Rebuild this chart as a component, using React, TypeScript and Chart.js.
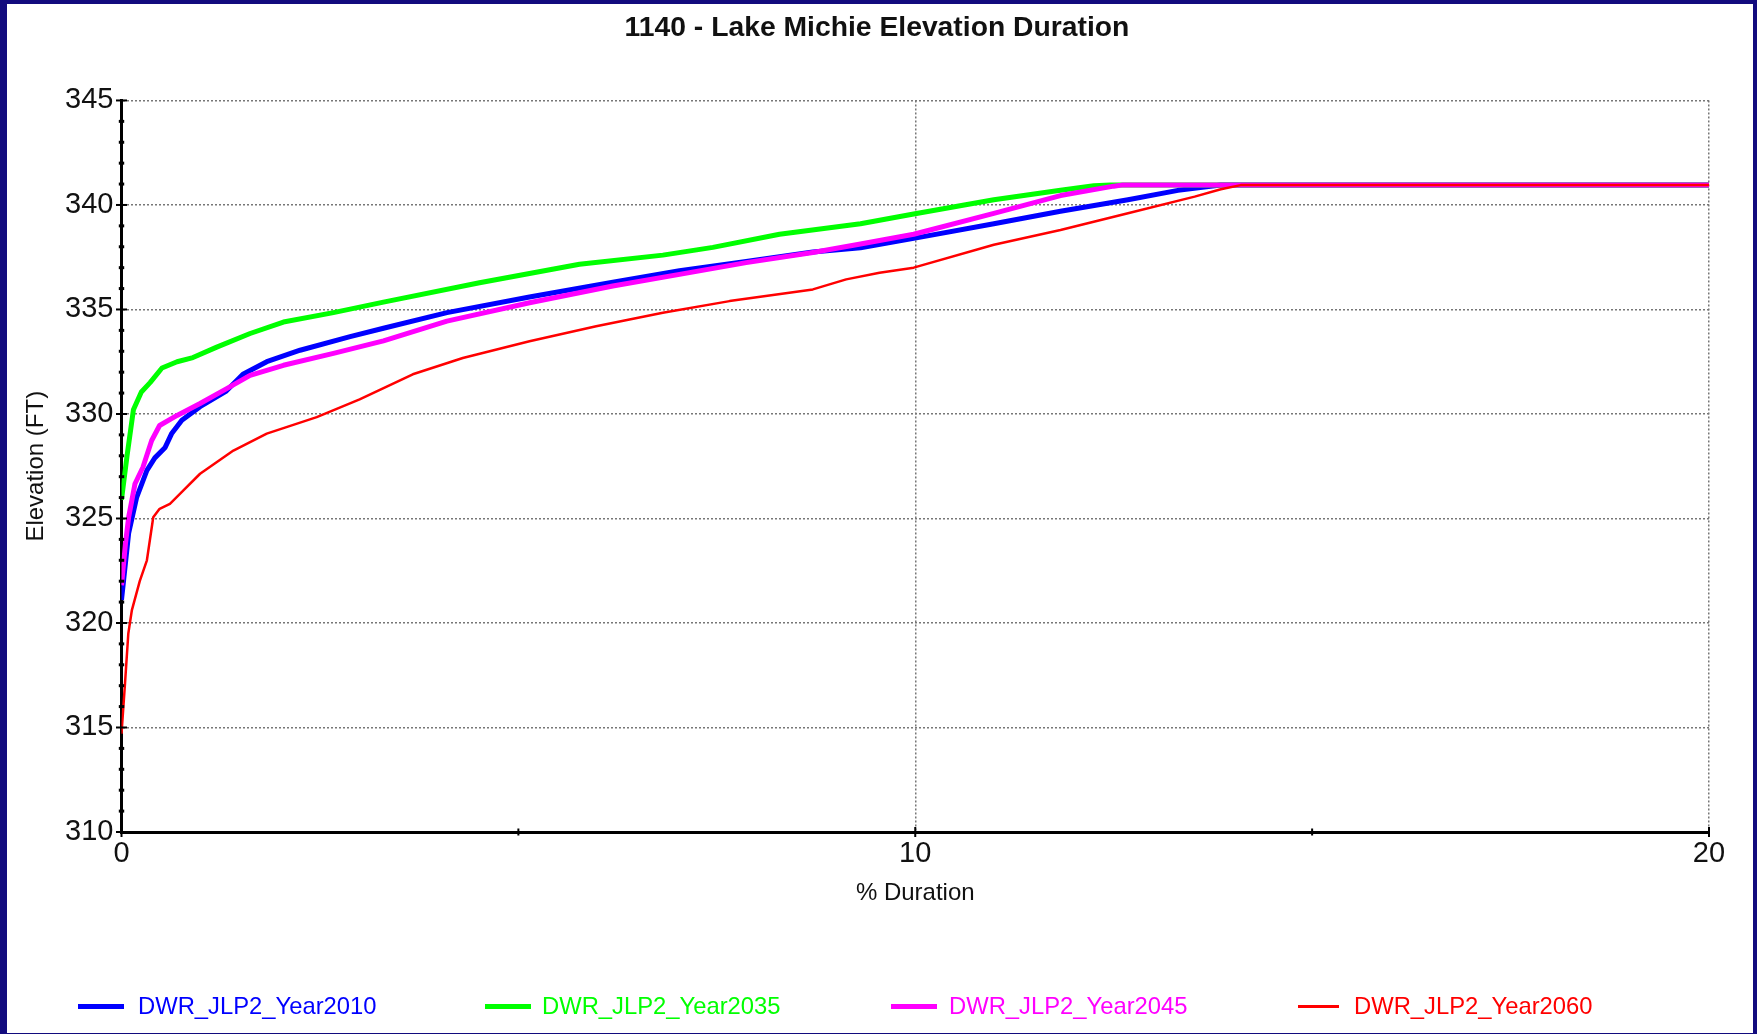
import React, { useEffect, useRef } from "react";
import { Chart, registerables } from "chart.js";

Chart.register(...registerables);

const FONT = "'Liberation Sans', Arial, Helvetica, sans-serif";

const TITLE = "1140 - Lake Michie Elevation Duration";
const X_TITLE = "% Duration";
const Y_TITLE = "Elevation (FT)";

const X_MIN = 0;
const X_MAX = 20;
const Y_MIN = 310;
const Y_MAX = 345;
const X_STEP = 10;
const Y_STEP = 5;
const X_MINOR = [5, 15];

const SERIES_NAMES = [
  "DWR_JLP2_Year2010",
  "DWR_JLP2_Year2035",
  "DWR_JLP2_Year2045",
  "DWR_JLP2_Year2060",
];
const SERIES_COLORS = ["#0000FF", "#00FF00", "#FF00FF", "#FF0000"];
const SERIES_WIDTHS = [5, 5, 5, 2.5];
// lower order draws on top
const SERIES_ORDER = [3, 2, 1, 0];

// % duration (x) and lake elevation in ft (y)
const dur2010 = [0, 0.09, 0.19, 0.32, 0.42, 0.55, 0.63, 0.76, 0.99, 1.32, 1.53, 1.83, 2.25, 2.88, 3.3, 4.1, 5.14, 6.19, 7.03, 7.87, 8.71, 9.31, 9.98, 10.99, 11.83, 12.68, 13.31, 13.72, 13.85, 20];
const elev2010 = [321.1, 324.3, 326.0, 327.3, 327.9, 328.4, 329.05, 329.7, 330.35, 331.1, 331.9, 332.5, 333.05, 333.7, 334.1, 334.85, 335.6, 336.3, 336.85, 337.3, 337.75, 337.95, 338.4, 339.1, 339.7, 340.25, 340.7, 340.9, 340.95, 340.95];

const dur2035 = [0, 0.07, 0.15, 0.25, 0.36, 0.51, 0.7, 0.9, 1.2, 1.62, 2.04, 2.67, 3.3, 4.51, 5.77, 6.82, 7.45, 8.29, 9.31, 9.98, 10.99, 11.83, 12.25, 12.46, 20];
const elev2035 = [325.9, 328.0, 330.2, 331.05, 331.5, 332.2, 332.5, 332.7, 333.2, 333.85, 334.4, 334.85, 335.35, 336.28, 337.16, 337.6, 337.97, 338.6, 339.1, 339.57, 340.25, 340.7, 340.92, 340.95, 340.95];

const dur2045 = [0, 0.05, 0.09, 0.17, 0.27, 0.38, 0.48, 0.7, 0.99, 1.32, 1.62, 2.04, 2.67, 3.3, 4.1, 5.14, 6.19, 7.03, 7.87, 8.71, 9.31, 9.98, 10.99, 11.83, 12.5, 12.6, 20];
const elev2045 = [321.8, 323.8, 325.06, 326.66, 327.45, 328.73, 329.45, 329.93, 330.5, 331.2, 331.85, 332.33, 332.9, 333.5, 334.44, 335.32, 336.12, 336.68, 337.24, 337.73, 338.13, 338.6, 339.6, 340.45, 340.9, 340.95, 340.95];

const dur2060 = [0, 0.044, 0.086, 0.13, 0.23, 0.32, 0.4, 0.48, 0.61, 0.78, 0.99, 1.41, 1.83, 2.46, 3.0, 3.67, 4.3, 5.14, 5.98, 6.82, 7.66, 8.71, 9.13, 9.55, 9.98, 10.99, 11.83, 12.68, 13.52, 13.85, 14.1, 20];
const elev2060 = [314.7, 317.1, 319.5, 320.6, 322.0, 323.0, 325.06, 325.46, 325.7, 326.34, 327.14, 328.25, 329.06, 329.85, 330.7, 331.9, 332.68, 333.48, 334.2, 334.84, 335.4, 335.96, 336.44, 336.76, 337.0, 338.1, 338.8, 339.6, 340.4, 340.75, 340.95, 340.95];

const SERIES_X = [dur2010, dur2035, dur2045, dur2060];
const SERIES_Y = [elev2010, elev2035, elev2045, elev2060];

// page geometry
const PAGE_W = 1757;
const PAGE_H = 1034;
const FRAME = { left: 7, top: 4, right: 4, bottom: 1 };
const CANVAS_W = PAGE_W - FRAME.left - FRAME.right;
const CANVAS_H = PAGE_H - FRAME.top - FRAME.bottom;

const LEGEND_POS = [
  { line: 78, text: 138 },
  { line: 485, text: 542 },
  { line: 891, text: 949 },
  { line: 1298, text: 1354 },
];
const LEGEND_Y = 1006;

// short tick marks that straddle both axis lines
const axisTicks = {
  id: "axisTicks",
  afterDraw(chart: any) {
    const { ctx, chartArea, scales } = chart;
    const xs = scales.x;
    const ys = scales.y;
    ctx.save();
    ctx.strokeStyle = "#000";
    for (let v = Y_MIN; v <= Y_MAX; v += 1) {
      const y = ys.getPixelForValue(v);
      const major = v % Y_STEP === 0;
      ctx.lineWidth = major ? 2 : 3;
      const w = major ? 5.5 : 2.7;
      ctx.beginPath();
      ctx.moveTo(chartArea.left - w, y);
      ctx.lineTo(chartArea.left + w, y);
      ctx.stroke();
    }
    const xVals = [...X_MINOR];
    for (let v = X_MIN; v <= X_MAX; v += X_STEP) xVals.push(v);
    for (const v of xVals) {
      const x = xs.getPixelForValue(v);
      const major = v % X_STEP === 0;
      ctx.lineWidth = 2;
      const h = major ? 5 : 3.5;
      ctx.beginPath();
      ctx.moveTo(x, chartArea.bottom - h);
      ctx.lineTo(x, chartArea.bottom + h);
      ctx.stroke();
    }
    ctx.restore();
  },
};

export default function App() {
  const canvasRef = useRef<HTMLCanvasElement | null>(null);

  useEffect(() => {
    const canvas = canvasRef.current;
    if (!canvas) return;

    const datasets = SERIES_NAMES.map((name, i) => ({
      label: name,
      data: SERIES_X[i].map((x, j) => ({ x, y: SERIES_Y[i][j] })),
      borderColor: SERIES_COLORS[i],
      backgroundColor: SERIES_COLORS[i],
      borderWidth: SERIES_WIDTHS[i],
      pointRadius: 0,
      tension: 0,
      fill: false,
      order: SERIES_ORDER[i],
      borderJoinStyle: "round" as const,
      borderCapStyle: "butt" as const,
    }));

    const chart = new Chart(canvas, {
      type: "line",
      data: { datasets },
      plugins: [axisTicks],
      options: {
        animation: false,
        responsive: false,
        devicePixelRatio: 1,
        layout: { padding: { left: 38, right: 44, top: 0, bottom: 125.6 } },
        plugins: {
          legend: { display: false },
          tooltip: { enabled: false },
          title: {
            display: true,
            text: TITLE,
            color: "#111",
            font: { family: FONT, size: 28.3, weight: "bold" },
            padding: { top: 7, bottom: 55.5 },
          },
        },
        scales: {
          x: {
            type: "linear",
            min: X_MIN,
            max: X_MAX,
            afterFit(scale: any) {
              scale.height = 75.4;
            },
            ticks: {
              stepSize: X_STEP,
              color: "#111",
              padding: 5,
              maxRotation: 0,
              font: { family: FONT, size: 29 },
            },
            grid: {
              drawTicks: false,
              lineWidth: 1.5,
              color: (c: any) => (c.tick && c.tick.value === X_MIN ? "rgba(0,0,0,0)" : "#777"),
            },
            border: { display: true, color: "#000", width: 3, dash: [2, 2] },
            title: {
              display: true,
              text: X_TITLE,
              color: "#111",
              font: { family: FONT, size: 24 },
              padding: { top: 0, bottom: 0 },
            },
          },
          y: {
            type: "linear",
            min: Y_MIN,
            max: Y_MAX,
            afterFit(scale: any) {
              scale.width = 76.5;
            },
            ticks: {
              stepSize: Y_STEP,
              color: "#111",
              padding: 8,
              font: { family: FONT, size: 29 },
            },
            grid: {
              drawTicks: false,
              lineWidth: 1.5,
              color: (c: any) => (c.tick && c.tick.value === Y_MIN ? "rgba(0,0,0,0)" : "#777"),
            },
            border: { display: true, color: "#000", width: 3, dash: [2, 2] },
            title: {
              display: true,
              text: Y_TITLE,
              color: "#111",
              font: { family: FONT, size: 24 },
              padding: { top: -23.4, bottom: 0 },
            },
          },
        },
      },
    });

    return () => chart.destroy();
  }, []);

  return (
    <div
      style={{
        position: "absolute",
        left: 0,
        top: 0,
        width: PAGE_W,
        height: PAGE_H,
        background: "#120B7E",
        overflow: "hidden",
      }}
    >
      <div
        style={{
          position: "absolute",
          left: FRAME.left,
          top: FRAME.top,
          width: CANVAS_W,
          height: CANVAS_H,
          background: "#FFFFFF",
        }}
      >
        <canvas
          ref={canvasRef}
          width={CANVAS_W}
          height={CANVAS_H}
          style={{ display: "block", width: CANVAS_W, height: CANVAS_H }}
        />
      </div>
      {SERIES_NAMES.map((name, i) => (
        <React.Fragment key={name}>
          <div
            style={{
              position: "absolute",
              left: LEGEND_POS[i].line,
              top: LEGEND_Y - (i === 3 ? 1.5 : 2.5),
              width: i === 3 ? 41 : 46,
              height: i === 3 ? 3 : 5,
              background: SERIES_COLORS[i],
            }}
          />
          <div
            style={{
              position: "absolute",
              left: LEGEND_POS[i].text,
              top: LEGEND_Y - 14,
              height: 28,
              lineHeight: "28px",
              fontFamily: FONT,
              fontSize: 23.8,
              color: SERIES_COLORS[i],
              whiteSpace: "nowrap",
            }}
          >
            {name}
          </div>
        </React.Fragment>
      ))}
    </div>
  );
}
